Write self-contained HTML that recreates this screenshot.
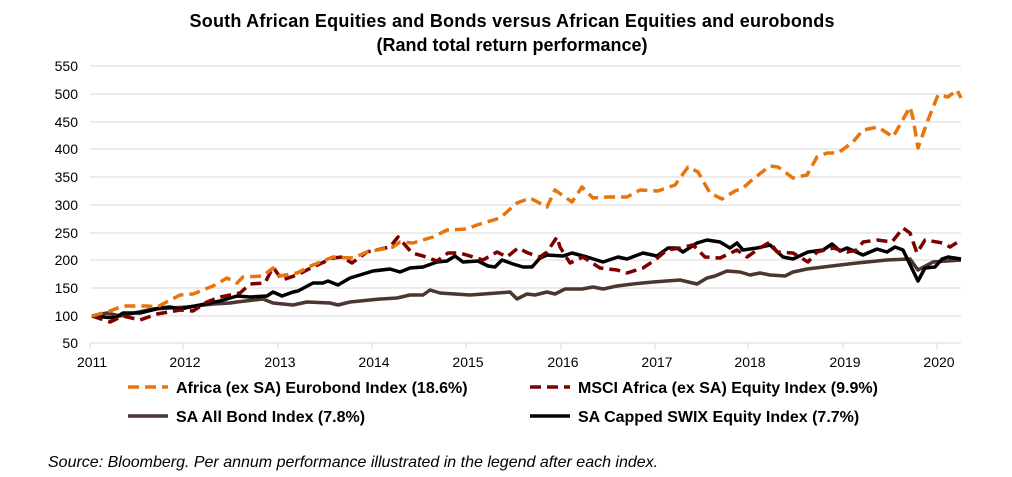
<!DOCTYPE html><html><head><style>body{margin:0;background:#fff}svg{display:block;font-family:"Liberation Sans",Arial,sans-serif}</style></head><body>
<svg width="1012" height="477" viewBox="0 0 1012 477">
<text x="512" y="27" text-anchor="middle" font-size="18" font-weight="bold" textLength="645">South African Equities and Bonds versus African Equities and eurobonds</text>
<text x="512" y="51" text-anchor="middle" font-size="18" font-weight="bold">(Rand total return performance)</text>
<g stroke="#d9d9d9" stroke-width="1">
<line x1="90" x2="961" y1="66" y2="66"/><line x1="90" x2="961" y1="94" y2="94"/><line x1="90" x2="961" y1="122" y2="122"/><line x1="90" x2="961" y1="149" y2="149"/><line x1="90" x2="961" y1="177" y2="177"/><line x1="90" x2="961" y1="205" y2="205"/><line x1="90" x2="961" y1="233" y2="233"/><line x1="90" x2="961" y1="260" y2="260"/><line x1="90" x2="961" y1="288" y2="288"/><line x1="90" x2="961" y1="316" y2="316"/><line x1="90" x2="961" y1="343" y2="343"/>
<line x1="90" x2="90" y1="343" y2="349"/><line x1="183" x2="183" y1="343" y2="349"/><line x1="278" x2="278" y1="343" y2="349"/><line x1="372" x2="372" y1="343" y2="349"/><line x1="466" x2="466" y1="343" y2="349"/><line x1="561" x2="561" y1="343" y2="349"/><line x1="655" x2="655" y1="343" y2="349"/><line x1="748" x2="748" y1="343" y2="349"/><line x1="843" x2="843" y1="343" y2="349"/><line x1="937" x2="937" y1="343" y2="349"/>
</g>
<g font-size="14" text-anchor="end" fill="#000">
<text x="78" y="71">550</text><text x="78" y="99">500</text><text x="78" y="127">450</text><text x="78" y="154">400</text><text x="78" y="182">350</text><text x="78" y="210">300</text><text x="78" y="238">250</text><text x="78" y="265">200</text><text x="78" y="293">150</text><text x="78" y="321">100</text><text x="78" y="348">50</text>
</g>
<g font-size="14" text-anchor="middle">
<text x="92" y="367">2011</text><text x="185" y="367">2012</text><text x="280" y="367">2013</text><text x="374" y="367">2014</text><text x="468" y="367">2015</text><text x="563" y="367">2016</text><text x="657" y="367">2017</text><text x="750" y="367">2018</text><text x="845" y="367">2019</text><text x="939" y="367">2020</text>
</g>
<g fill="none" stroke-width="3.5" stroke-linejoin="round">
<polyline stroke="#4d3530" points="92,316 107,313 120,316 153,309 187,307 213,304 230,303 237,302 263,299 273,303 293,305 307,302 330,303 338,305 350,302 380,299 397,298 410,295 423,295 430,290 440,293 470,295 510,292 517,299 527,294 535,295 547,292 555,294 565,289 582,289 593,287 603,289 617,286 633,284 653,282 680,280 697,284 707,278 715,276 727,271 740,272 750,275 760,273 770,275 785,276 793,272 807,269 840,265 857,263 887,260 910,259 918,270 933,262 961,260"/>
<polyline stroke="#000" points="92,316 115,318 123,313 140,313 160,308 170,307 180,309 200,305 220,301 237,296 250,297 267,296 273,292 282,296 293,292 298,291 313,283 323,283 328,281 338,285 350,278 373,271 390,269 400,272 410,268 423,267 437,262 447,261 455,256 463,262 478,261 488,266 495,267 502,260 513,264 523,267 532,267 540,258 547,255 563,256 572,253 587,257 603,262 618,257 627,259 643,253 657,256 668,248 677,248 683,252 697,243 707,240 720,242 730,248 737,243 743,250 757,248 770,245 783,257 793,259 808,252 823,250 832,244 840,251 847,248 863,255 877,249 887,252 895,247 903,250 918,281 925,268 935,267 942,259 948,257 961,259"/>
<polyline stroke="#7b0000" stroke-dasharray="11,6" points="92,316 110,322 123,316 140,320 157,314 180,310 193,311 207,302 220,297 240,293 250,284 265,283 273,267 282,280 297,275 313,267 333,258 342,257 352,263 367,252 390,247 398,237 412,253 423,256 437,261 448,253 460,253 483,260 497,252 507,257 518,248 528,253 540,257 547,252 557,237 560,247 570,263 583,257 600,268 617,270 627,273 643,268 655,260 667,250 680,248 693,245 705,257 720,258 737,250 747,257 760,248 770,242 777,252 793,253 808,262 817,252 833,248 847,252 857,250 863,242 877,240 892,242 903,228 910,233 917,253 925,240 943,243 950,247 961,240"/>
<polyline stroke="#e8740c" stroke-dasharray="11,6" points="92,316 110,311 123,306 147,306 157,307 180,295 193,294 213,286 227,278 237,283 243,277 263,276 273,268 280,276 297,273 313,265 333,257 353,258 367,252 393,247 400,242 413,243 433,237 447,230 467,229 477,225 500,218 517,203 530,198 547,207 555,190 572,202 582,187 593,198 607,197 627,197 640,190 658,191 675,185 688,167 698,172 710,193 722,199 735,191 743,188 753,179 770,166 778,167 793,178 807,175 817,157 827,153 838,153 853,142 863,130 878,127 893,137 910,107 913,118 918,148 928,120 938,95 948,97 957,90 961,98"/>
</g>
<g stroke-width="3.5">
<line x1="128" x2="168" y1="387" y2="387" stroke="#e8740c" stroke-dasharray="11,6"/>
<line x1="530" x2="570" y1="387" y2="387" stroke="#7b0000" stroke-dasharray="11,6"/>
<line x1="128" x2="168" y1="416" y2="416" stroke="#4d3530"/>
<line x1="530" x2="570" y1="416" y2="416" stroke="#000"/>
</g>
<g font-size="16" font-weight="bold">
<text x="176" y="393">Africa (ex SA) Eurobond Index (18.6%)</text>
<text x="578" y="393">MSCI Africa (ex SA) Equity Index (9.9%)</text>
<text x="176" y="422">SA All Bond Index (7.8%)</text>
<text x="578" y="422">SA Capped SWIX Equity Index (7.7%)</text>
</g>
<text x="48" y="467" font-size="16" font-style="italic">Source: Bloomberg. Per annum performance illustrated in the legend after each index.</text>
</svg></body></html>
